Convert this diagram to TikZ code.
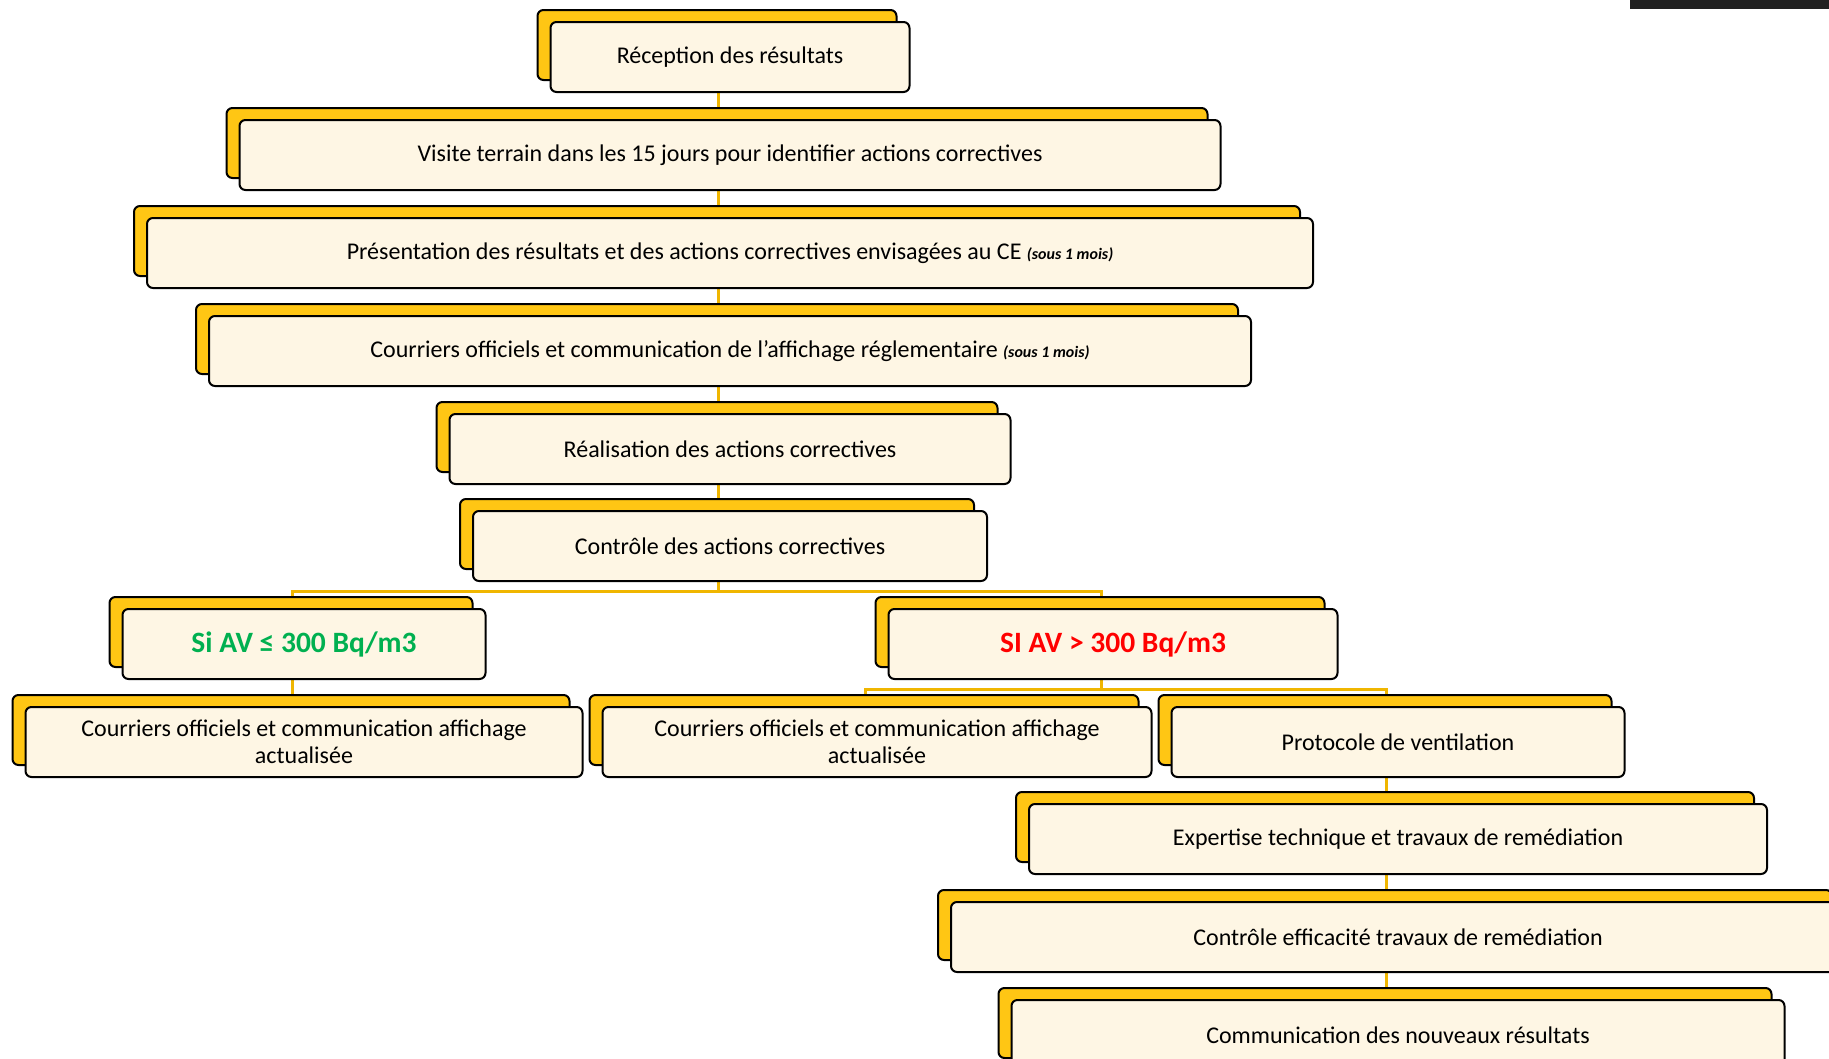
\documentclass[tikz,border=0pt]{standalone}
\usepackage{fontspec}
\setmainfont{Carlito}
\usetikzlibrary{backgrounds}
\definecolor{jaune}{RGB}{255,198,20}
\definecolor{creme}{RGB}{254,246,228}
\definecolor{liengold}{RGB}{240,182,0}
\definecolor{vertav}{RGB}{0,176,80}
\definecolor{rougeav}{RGB}{255,0,0}
\newcommand{\delai}[1]{{\fontsize{16}{18}\selectfont\bfseries\itshape #1}}
\tikzset{
  etape/.style={draw=black, line width=2, rounded corners=6, fill=creme,
    minimum height=70, inner sep=0, align=center,
    font=\fontsize{24}{27}\selectfont,
    preaction={draw=black, fill=jaune, transform canvas={shift={(-13,12)}}}},
  seuil/.style={etape, font=\fontsize{29.5}{32}\selectfont\bfseries},
  lien/.style={draw=liengold, line width=3},
}
\begin{document}
\begin{tikzpicture}[x=1pt,y=1pt]
\useasboundingbox (0,0) rectangle (1829,-1058);
\fill[black!87] (1630,0) rectangle (1829,-9);
% etapes communes
\node[etape, minimum width=359] (reception) at (730,-57) {Réception des résultats};
\node[etape, minimum width=981] (visite) at (730,-155) {Visite terrain dans les 15 jours pour identifier actions correctives};
\node[etape, minimum width=1166] (presentation) at (730,-253) {Présentation des résultats et des actions correctives envisagées au CE \delai{(sous 1 mois)}};
\node[etape, minimum width=1042] (courriers) at (730,-351) {Courriers officiels et communication de l’affichage réglementaire \delai{(sous 1 mois)}};
\node[etape, minimum width=561] (realisation) at (730,-449) {Réalisation des actions correctives};
\node[etape, minimum width=514] (controle) at (730,-546) {Contrôle des actions correctives};
% les deux cas
\node[seuil, minimum width=363, text=vertav] (siinf) at (304,-644) {Si AV ≤ 300 Bq/m3};
\node[seuil, minimum width=449, text=rougeav] (sisup) at (1113,-644) {SI AV > 300 Bq/m3};
\node[etape, minimum width=557] (courrierg) at (304,-742) {Courriers officiels et communication affichage\\actualisée};
\node[etape, minimum width=549] (courrierd) at (877,-742) {Courriers officiels et communication affichage\\actualisée};
\node[etape, minimum width=453] (protocole) at (1398,-742) {Protocole de ventilation};
\node[etape, minimum width=738] (expertise) at (1398,-839) {Expertise technique et travaux de remédiation};
\node[etape, minimum width=894] (efficacite) at (1398,-937) {Contrôle efficacité travaux de remédiation};
\node[etape, minimum width=773] (communication) at (1398,-1035) {Communication des nouveaux résultats};
% liaisons
\begin{scope}[on background layer]
\foreach \a/\b in {reception/visite, visite/presentation, presentation/courriers,
  courriers/realisation, realisation/controle, siinf/courrierg,
  protocole/expertise, expertise/efficacite, efficacite/communication}
  \draw[lien] ([xshift=-12]\a.south) -- ([xshift=-12]\b.north);
\draw[lien] ([xshift=-12]controle.south) -- ++(0,-9) -| ([xshift=-12]siinf.north);
\draw[lien] ([xshift=-12]controle.south) -- ++(0,-9) -| ([xshift=-12]sisup.north);
\draw[lien] ([xshift=-12]sisup.south) -- ++(0,-9) -| ([xshift=-12]courrierd.north);
\draw[lien] ([xshift=-12]sisup.south) -- ++(0,-9) -| ([xshift=-12]protocole.north);
\end{scope}
\end{tikzpicture}
\end{document}
